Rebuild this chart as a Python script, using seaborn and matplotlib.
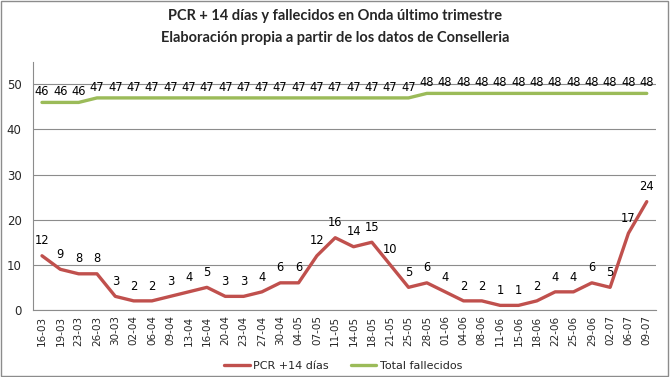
import pandas as pd
import matplotlib.pyplot as plt
import seaborn as sns

# Data
fechas = ['16-03', '19-03', '23-03', '26-03', '30-03', '02-04', '06-04', '09-04', '13-04',
          '16-04', '20-04', '23-04', '27-04', '30-04', '04-05', '07-05', '11-05', '14-05',
          '18-05', '21-05', '25-05', '28-05', '01-06', '04-06', '08-06', '11-06', '15-06',
          '18-06', '22-06', '25-06', '29-06', '02-07', '06-07', '09-07']
pcr = [12, 9, 8, 8, 3, 2, 2, 3, 4, 5, 3, 3, 4, 6, 6, 12, 16, 14, 15, 10, 5, 6, 4, 2, 2,
       1, 1, 2, 4, 4, 6, 5, 17, 24]
fallecidos = [46, 46, 46] + [47] * 18 + [48] * 13

series_names = ['PCR +14 días', 'Total fallecidos']
colors = ['#C0504D', '#9BBB59']

df = pd.DataFrame({'pos': range(len(fechas)), 'PCR +14 días': pcr,
                   'Total fallecidos': fallecidos})
long = df.melt(id_vars='pos', var_name='serie', value_name='valor')

sns.set_style('white')
plt.rcParams['font.family'] = ['DejaVu Sans']

fig = plt.figure(figsize=(6.7, 3.77), dpi=100)
ax = fig.add_axes([0.049, 0.178, 0.93, 0.658])

sns.lineplot(data=long, x='pos', y='valor', hue='serie', hue_order=series_names,
             palette=colors, linewidth=2.4, ax=ax, legend=False)

# data labels
for i, v in enumerate(pcr):
    ax.annotate(str(v), (i, v), xytext=(0, 6), textcoords='offset points',
                ha='center', va='bottom', fontsize=8.3, color='black')
for i, v in enumerate(fallecidos):
    ax.annotate(str(v), (i, v), xytext=(0, 3), textcoords='offset points',
                ha='center', va='bottom', fontsize=8.3, color='black')

ax.set_xlim(-0.5, len(fechas) - 0.5)
ax.set_ylim(0, 55)
ax.set_yticks(range(0, 51, 10))
ax.set_xticks(range(len(fechas)))
ax.set_xticklabels(fechas, rotation=90, fontsize=7.5)
ax.tick_params(axis='y', labelsize=8.5, length=0, pad=8)
ax.tick_params(axis='x', length=0, pad=4)
ax.set_xlabel('')
ax.set_ylabel('')
ax.yaxis.grid(True, color='#8c8c8c', linewidth=0.8)
ax.set_axisbelow(True)
for s in ['top', 'right']:
    ax.spines[s].set_visible(False)
for s in ['left', 'bottom']:
    ax.spines[s].set_color('#8c8c8c')
    ax.spines[s].set_linewidth(0.8)

fig.text(0.5, 0.958, 'PCR + 14 días y fallecidos en Onda último trimestre',
         ha='center', va='center', fontsize=10.5, fontweight='bold',
         family=['Lato', 'DejaVu Sans'])
fig.text(0.5, 0.9, 'Elaboración propia a partir de los datos de Conselleria',
         ha='center', va='center', fontsize=10.5, fontweight='bold',
         family=['Lato', 'DejaVu Sans'])

handles = [plt.Line2D([], [], color=c, linewidth=2.4) for c in colors]
fig.legend(handles, series_names, loc='center', bbox_to_anchor=(0.512, 0.03),
           ncol=2, frameon=False, fontsize=8, handlelength=2.3,
           handletextpad=0.3, columnspacing=2.0)

# border round the chart
fig.patches.append(plt.Rectangle((0.002, 0.003), 0.995, 0.994, transform=fig.transFigure,
                                 fill=False, edgecolor='#8c8c8c', linewidth=1))

fig.savefig('out.png', dpi=100)
